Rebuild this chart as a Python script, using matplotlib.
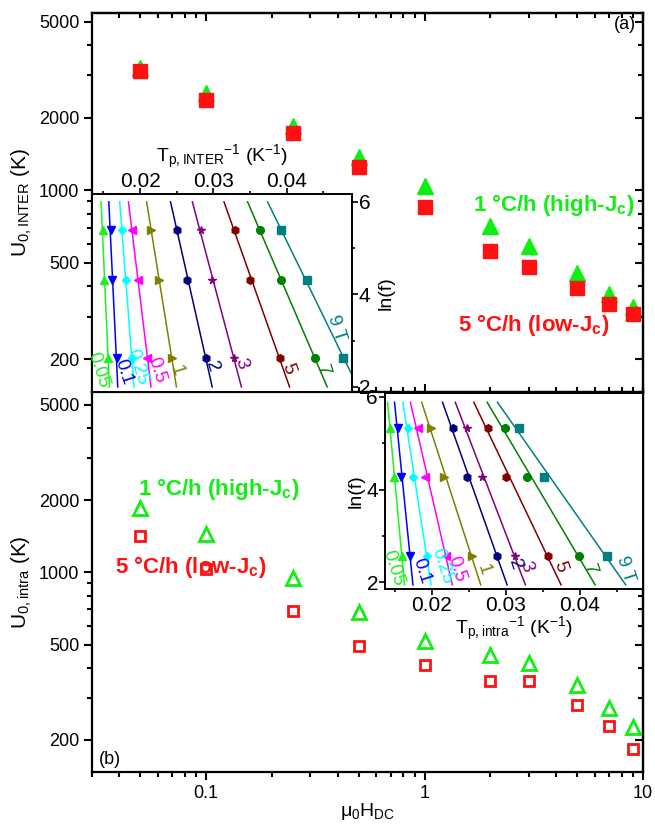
import matplotlib.pyplot as plt
import numpy as np
from matplotlib.ticker import FixedLocator, NullFormatter, MultipleLocator

plt.rcParams['font.family'] = ['Liberation Sans', 'DejaVu Sans']
plt.rcParams['mathtext.default'] = 'regular'

# Dados: campo DC (T) e barreiras U0 (K)
campo = [0.05, 0.1, 0.25, 0.5, 1, 2, 3, 5, 7, 9]
u_inter_1 = [3220, 2540, 1850, 1380, 1040, 710, 590, 455, 372, 328]
u_inter_5 = [3130, 2370, 1730, 1250, 857, 558, 480, 393, 337, 307]
u_intra_1 = [1850, 1450, 950, 680, 515, 454, 420, 340, 272, 227]
u_intra_5 = [1420, 1030, 690, 495, 412, 353, 353, 280, 229, 183]

# Insets: ln(f) vs 1/Tp para cada campo
campos_inset = ['0.05', '0.1', '0.25', '0.5', '1', '2', '3', '5', '7', '9 T']
lnf_inter = [5.39, 4.31, 2.62]
lnf_intra = [5.32, 4.27, 2.58]
tinv_inter = [
    [0.01491, 0.01509, 0.01568],
    [0.01600, 0.01614, 0.01682],
    [0.01750, 0.01809, 0.01886],
    [0.01886, 0.01977, 0.02100],
    [0.02150, 0.02264, 0.02432],
    [0.02509, 0.02645, 0.02900],
    [0.02827, 0.02977, 0.03286],
    [0.03295, 0.03500, 0.03909],
    [0.03636, 0.03918, 0.04386],
    [0.03918, 0.04273, 0.04773],
]
tinv_intra = [
    [0.01443, 0.01488, 0.01600],
    [0.01542, 0.01587, 0.01712],
    [0.01676, 0.01748, 0.01937],
    [0.01811, 0.01915, 0.02198],
    [0.01996, 0.02162, 0.02544],
    [0.02283, 0.02481, 0.02885],
    [0.02472, 0.02674, 0.03124],
    [0.02764, 0.03003, 0.03573],
    [0.02989, 0.03290, 0.03991],
    [0.03182, 0.03515, 0.04369],
]

cores = ['#22ee22', '#0000ff', '#00ffff', '#ff00ff', '#808000',
         '#000080', '#800080', '#800000', '#008000', '#008080']
marcadores = ['^', 'v', 'D', '<', '>', 'h', '*', 'h', 'o', 's']

# posicao dos rotulos de campo nos insets (dados)
rot_inter = [(0.01432, 2.36), (0.01782, 2.32), (0.01955, 2.43), (0.02227, 2.36),
             (0.02491, 2.36), (0.02977, 2.43), (0.03386, 2.51), (0.04023, 2.40),
             (0.0450, 2.36), (0.04682, 3.26)]
rot_intra = [(0.01483, 2.31), (0.01865, 2.24), (0.02135, 2.35), (0.02337, 2.28),
             (0.02697, 2.28), (0.03124, 2.39), (0.03281, 2.35), (0.0373, 2.35),
             (0.04135, 2.28), (0.04607, 2.28)]

verde = '#11ee11'
vermelho = '#ff1111'
W, H = 655, 824


def caixa(x0, y0, x1, y1):
    return [x0 / W, 1 - y1 / H, (x1 - x0) / W, (y1 - y0) / H]


fig = plt.figure(figsize=(6.55, 8.24), dpi=100)
ax1 = fig.add_axes(caixa(92, 13, 643, 392))
ax2 = fig.add_axes(caixa(92, 392, 643, 772))

ax1.plot(campo, u_inter_1, '^', color=verde, ms=12, mec=verde, zorder=3)
ax1.plot(campo, u_inter_5, 's', color=vermelho, ms=9.5, mec=vermelho, zorder=4)
ax2.plot(campo, u_intra_1, '^', mfc='none', mec=verde, mew=2, ms=10)
ax2.plot(campo, u_intra_5, 's', mfc='none', mec=vermelho, mew=2, ms=7.5)

for ax, ylim in ((ax1, (146, 5430)), (ax2, (147, 5650))):
    ax.set_xscale('log')
    ax.set_yscale('log')
    ax.set_xlim(0.03, 10)
    ax.set_ylim(*ylim)
    ax.xaxis.set_major_locator(FixedLocator([0.1, 1, 10]))
    ax.set_xticklabels(['0.1', '1', '10'])
    ax.xaxis.set_minor_formatter(NullFormatter())
    ax.yaxis.set_major_locator(FixedLocator([200, 500, 1000, 2000, 5000]))
    ax.yaxis.set_minor_locator(FixedLocator([300, 400, 600, 700, 800, 900, 3000, 4000]))
    ax.set_yticklabels(['200', '500', '1000', '2000', '5000'])
    ax.yaxis.set_minor_formatter(NullFormatter())
    ax.tick_params(which='both', direction='out', width=1.5, labelsize=13, pad=3)
    ax.tick_params(which='major', length=6)
    ax.tick_params(which='minor', length=3.5)
    for s in ax.spines.values():
        s.set_linewidth(1.6)
    dir_ = ax.secondary_yaxis('right')
    dir_.yaxis.set_major_locator(FixedLocator([200, 500, 1000, 2000, 5000]))
    dir_.yaxis.set_minor_locator(FixedLocator([300, 400, 600, 700, 800, 900, 3000, 4000]))
    dir_.yaxis.set_major_formatter(NullFormatter())
    dir_.yaxis.set_minor_formatter(NullFormatter())
    dir_.tick_params(which='both', direction='in', width=1.5)
    dir_.tick_params(which='major', length=6)
    dir_.tick_params(which='minor', length=3.5)
    dir_.spines['right'].set_linewidth(1.6)

topo = ax1.secondary_xaxis('top')
topo.xaxis.set_major_formatter(NullFormatter())
topo.xaxis.set_minor_formatter(NullFormatter())
topo.tick_params(which='both', direction='in', width=1.5)
topo.tick_params(which='major', length=6)
topo.tick_params(which='minor', length=3.5)
topo.spines['top'].set_linewidth(1.6)

ax1.tick_params(axis='x', which='both', direction='in', labelbottom=False)

ax1.set_ylabel('U$_{0,INTER}$ (K)', fontsize=15)
ax2.set_ylabel('U$_{0,intra}$ (K)', fontsize=15)
ax1.yaxis.set_label_coords(-0.105, 0.5)
ax2.yaxis.set_label_coords(-0.105, 0.5)
ax2.set_xlabel('$\\mu_0$H$_{DC}$', fontsize=14, labelpad=0)

ax1.text(0.988, 0.97, '(a)', transform=ax1.transAxes, ha='right', va='center', fontsize=13)
ax2.text(0.013, 0.034, '(b)', transform=ax2.transAxes, ha='left', va='center', fontsize=13)

ax1.text(0.985, 0.493, '1 °C/h (high-J$_c$)', transform=ax1.transAxes, ha='right',
         va='center', fontsize=16, fontweight='bold', color=verde)
ax1.text(0.94, 0.177, '5 °C/h (low-J$_c$)', transform=ax1.transAxes, ha='right',
         va='center', fontsize=16, fontweight='bold', color=vermelho)
ax2.text(0.229, 0.745, '1 °C/h (high-J$_c$)', transform=ax2.transAxes, ha='center',
         va='center', fontsize=16, fontweight='bold', color=verde)
ax2.text(0.180, 0.539, '5 °C/h (low-J$_c$)', transform=ax2.transAxes, ha='center',
         va='center', fontsize=16, fontweight='bold', color=vermelho)

# Insets
axi1 = fig.add_axes(caixa(92, 194, 352, 392))
axi2 = fig.add_axes(caixa(385, 393, 643, 589))
axi1.set_zorder(6)
axi2.set_zorder(5)
insets = ((axi1, tinv_inter, lnf_inter, rot_inter, (0.01345, 0.0489), (1.89, 6.17), (2.0, 6.0)),
          (axi2, tinv_intra, lnf_intra, rot_intra, (0.0137, 0.04849), (1.86, 6.08), (1.95, 5.88)))
for axi, tinv, lnf, rots, xl, yl, faixa in insets:
    for k in range(len(campos_inset)):
        p = np.polyfit(lnf, tinv[k], 1)
        yy = np.array(faixa)
        axi.plot(np.polyval(p, yy), yy, '-', color=cores[k], lw=1.1)
        axi.plot(tinv[k], lnf, marcadores[k], color=cores[k], ms=5.5 if marcadores[k] != 'D' else 4.5,
                 mec=cores[k])
        axi.text(rots[k][0], rots[k][1], campos_inset[k], color=cores[k], fontsize=13.5,
                 rotation=-72, ha='center', va='center')
    axi.set_xlim(*xl)
    axi.set_ylim(*yl)
    axi.xaxis.set_major_locator(FixedLocator([0.02, 0.03, 0.04]))
    axi.set_xticklabels(['0.02', '0.03', '0.04'])
    axi.xaxis.set_minor_locator(MultipleLocator(0.005))
    axi.yaxis.set_major_locator(FixedLocator([2, 4, 6]))
    axi.set_yticklabels(['2', '4', '6'])
    axi.yaxis.set_minor_locator(FixedLocator([3, 5]))
    axi.tick_params(which='both', direction='out', width=1.2, labelsize=15, pad=1)
    axi.tick_params(which='major', length=4)
    axi.tick_params(which='minor', length=2.5)
    for s in axi.spines.values():
        s.set_linewidth(1.4)

axi1.xaxis.tick_top()
axi1.xaxis.set_label_position('top')
axi1.yaxis.tick_right()
axi1.yaxis.set_label_position('right')
axi1.tick_params(axis='x', pad=-1.5)
axi1.set_xlabel('T$_{p,INTER}$$^{-1}$ (K$^{-1}$)', fontsize=14, labelpad=7)
axi1.set_ylabel('ln(f)', fontsize=14, labelpad=5)
axi2.set_xlabel('T$_{p,intra}$$^{-1}$ (K$^{-1}$)', fontsize=14, labelpad=0)
axi2.set_ylabel('ln(f)', fontsize=14, labelpad=1)

fig.savefig('out.png', dpi=100)
